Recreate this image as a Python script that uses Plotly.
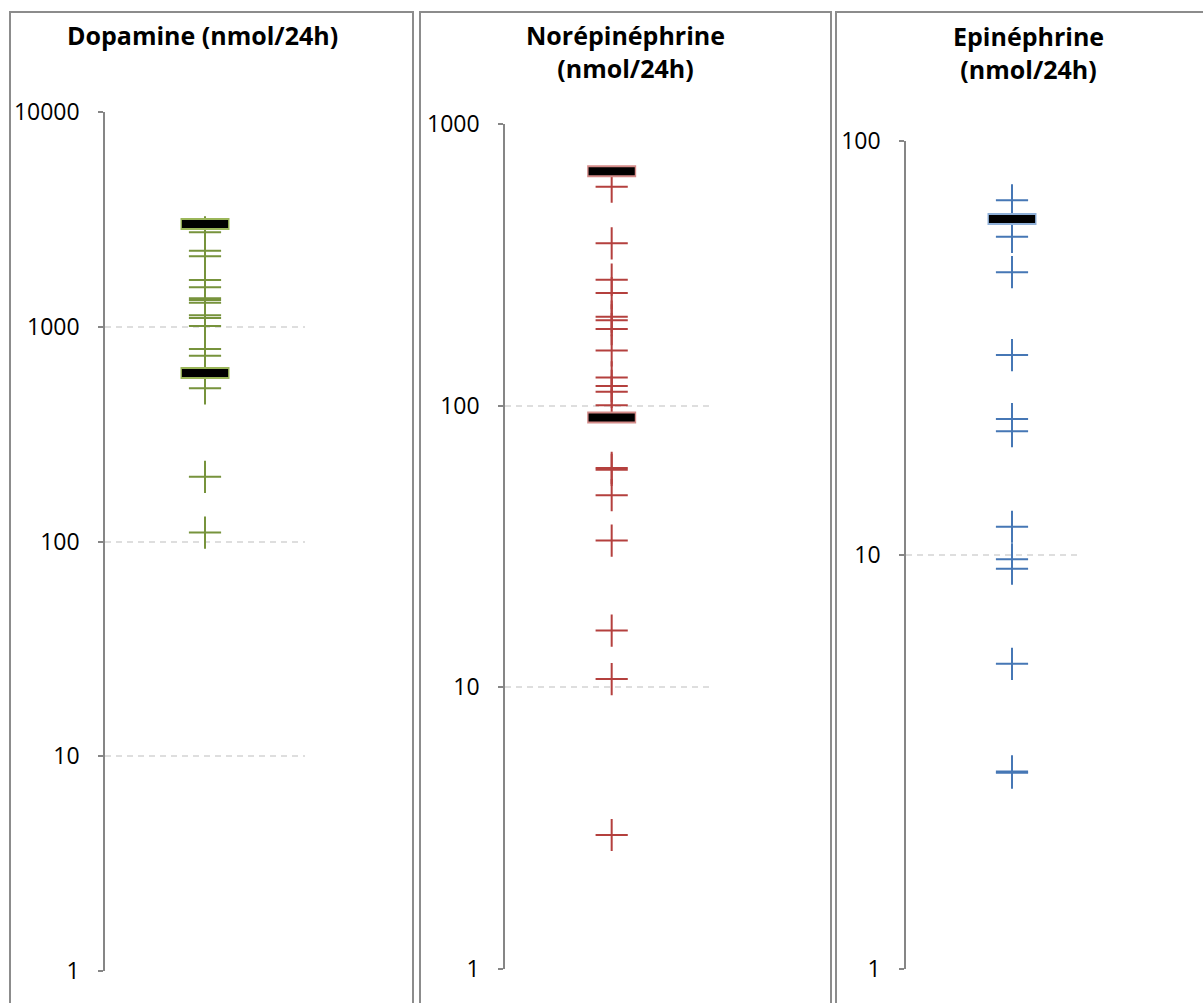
import plotly.graph_objects as go

# ---------------- data ----------------
panel_titles = ["Dopamine (nmol/24h)", "Norépinéphrine<br>(nmol/24h)", "Epinéphrine<br>(nmol/24h)"]

dopamine_values = [2753, 2259, 2129, 1651, 1526, 1357, 1332, 1294, 1131, 1098, 1008, 788, 733, 517, 200, 110]
dopamine_ref = [3010, 609]

norepi_values = [599, 377, 280, 251, 207, 201, 187, 157, 126, 117.5, 112, 100.3, 60.1, 59.2, 48.1, 33.2, 15.9, 10.7, 2.99]
norepi_ref = [679, 90.7]

epi_values = [71.9, 58.7, 48.2, 30.4, 21.3, 19.9, 11.7, 9.76, 9.27, 5.46, 3.0, 2.98]
epi_ref = [64.8]

tick_vals_1 = [1, 10, 100, 1000, 10000]
tick_text_1 = ["1", "10", "100", "1000", "10000"]
tick_vals_2 = [1, 10, 100, 1000]
tick_text_2 = ["1", "10", "100", "1000"]
tick_vals_3 = [1, 10, 100]
tick_text_3 = ["1", "10", "100"]

# ---------------- styling / layout ----------------
W, H = 1203, 1003
FONT = "Open Sans"

series_colors = ["#77933c", "#b4403e", "#4677b5"]
ref_border_colors = ["#9bb65a", "#d48b89", "#8fb0d8"]

# plot areas in pixels: (x_left, x_right, y_top, y_bottom)
areas = [(105, 305, 112, 971), (505, 710, 124, 969), (906, 1081, 141, 969)]
x_ranges = [[0, 2], [-0.02, 1.94], [0, 1.651]]
y_ranges = [[0, 4], [0, 3], [0, 2]]
tick_sets = [(tick_vals_1, tick_text_1), (tick_vals_2, tick_text_2), (tick_vals_3, tick_text_3)]
values = [dopamine_values, norepi_values, epi_values]
refs = [dopamine_ref, norepi_ref, epi_ref]

title_pos = [(202, 35), (625, 52), (1028, 53)]
panel_boxes = [(10, 413), (420, 831), (836, 1215)]

fig = go.Figure()

for i in range(3):
    xa = "x" if i == 0 else f"x{i+1}"
    ya = "y" if i == 0 else f"y{i+1}"
    col = series_colors[i]
    vals = values[i]
    fig.add_trace(go.Scatter(
        x=[1] * len(vals), y=vals, mode="markers", xaxis=xa, yaxis=ya,
        marker=dict(symbol="cross-thin", size=23, color=col,
                    line=dict(width=2, color=col)),
        showlegend=False, hoverinfo="y"))
    r = refs[i]
    fig.add_trace(go.Scatter(
        x=[1] * len(r), y=r, mode="markers", xaxis=xa, yaxis=ya,
        marker=dict(symbol="line-ew", size=35, color=ref_border_colors[i],
                    line=dict(width=12, color=ref_border_colors[i])),
        showlegend=False, hoverinfo="skip"))
    fig.add_trace(go.Scatter(
        x=[1] * len(r), y=r, mode="markers", xaxis=xa, yaxis=ya,
        marker=dict(symbol="line-ew", size=33, color="black",
                    line=dict(width=8, color="black")),
        showlegend=False, hoverinfo="y"))

layout = dict(
    width=W, height=H,
    margin=dict(l=0, r=0, t=0, b=0, autoexpand=False),
    paper_bgcolor="white", plot_bgcolor="white",
    font=dict(family=FONT, color="black"),
    showlegend=False,
)

for i in range(3):
    xl, xr, yt, yb = areas[i]
    xkey = "xaxis" if i == 0 else f"xaxis{i+1}"
    ykey = "yaxis" if i == 0 else f"yaxis{i+1}"
    xa = "x" if i == 0 else f"x{i+1}"
    ya = "y" if i == 0 else f"y{i+1}"
    layout[xkey] = dict(domain=[xl / W, xr / W], range=x_ranges[i], anchor=ya,
                        visible=False, fixedrange=True, automargin=False)
    tv, tt = tick_sets[i]
    layout[ykey] = dict(domain=[1 - yb / H, 1 - yt / H], anchor=xa, type="log",
                        range=y_ranges[i], tickvals=tv, ticktext=tt,
                        showgrid=True, gridcolor="#dedede", griddash="6px,5px", gridwidth=2,
                        showline=True, linecolor="#868686", linewidth=1.5,
                        ticks="outside", ticklen=5, tickcolor="#868686", tickwidth=1.5,
                        tickfont=dict(family=FONT, size=23, color="black"),
                        ticklabelstandoff=14, zeroline=False, fixedrange=True,
                        automargin=False)

fig.update_layout(**layout)

for i in range(3):
    x, y = title_pos[i]
    fig.add_annotation(text=f"<b>{panel_titles[i]}</b>", x=x / W, y=1 - y / H,
                       xref="paper", yref="paper", xanchor="center", yanchor="middle",
                       showarrow=False, font=dict(family=FONT, size=25, color="black"))

for x0, x1 in panel_boxes:
    fig.add_shape(type="rect", xref="paper", yref="paper",
                  x0=x0 / W, x1=x1 / W, y0=1 - 1020 / H, y1=1 - 12 / H,
                  line=dict(color="#8c8c8c", width=2), fillcolor="rgba(0,0,0,0)", layer="below")

fig.write_html("out.html", config={"displayModeBar": False},
               post_script="document.body.style.margin='0';document.body.style.overflow='hidden';")
